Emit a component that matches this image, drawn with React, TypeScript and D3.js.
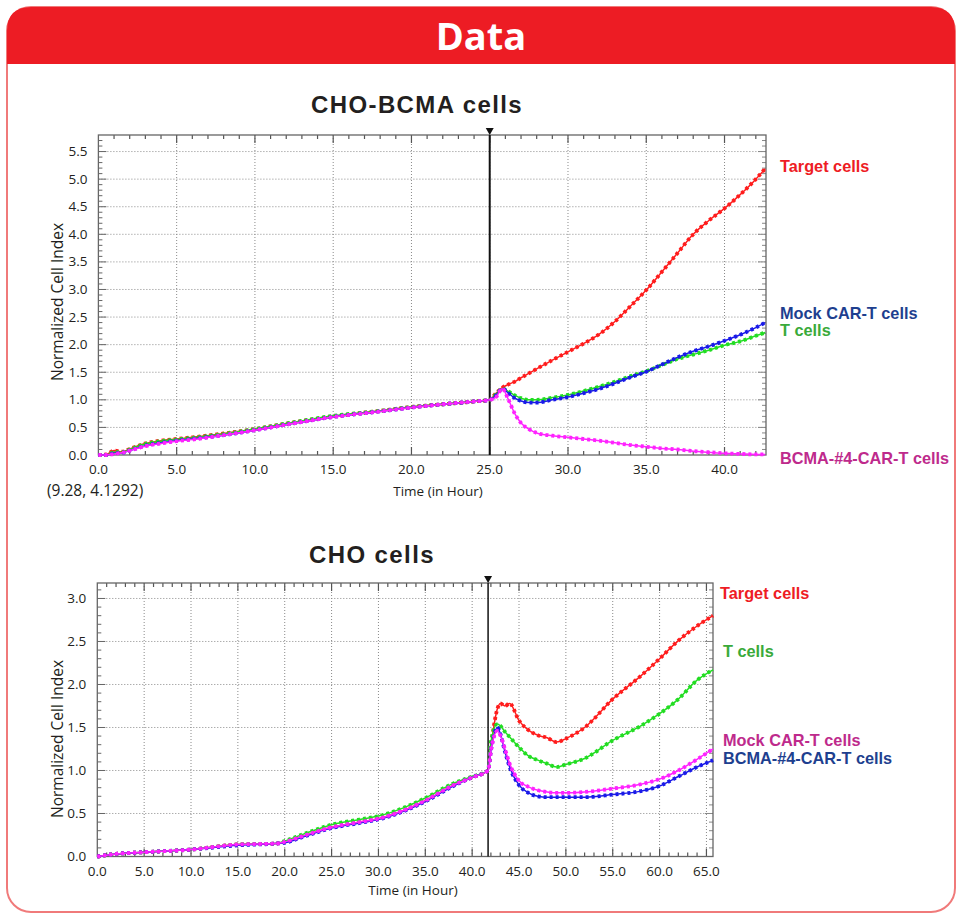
import React, { useEffect, useRef } from 'react';
import * as d3 from 'd3';

// CHO-BCMA panel (hours, normalized cell index)
const topHours = [0, 0.5, 1, 1.5, 2, 3, 4, 5, 6, 8, 10, 12, 15, 18, 20, 22, 24, 25,
  25.4, 25.8, 26.2, 26.6, 27, 27.5, 28, 29, 30, 31, 32, 33, 34, 35, 36, 37, 38, 39, 40, 41, 42, 42.6];
const topTarget = [0, 0.01, 0.08, 0.06, 0.11, 0.21, 0.26, 0.29, 0.32, 0.39, 0.47, 0.57, 0.7, 0.8, 0.87, 0.92, 0.97, 1.0,
  1.12, 1.22, 1.28, 1.33, 1.4, 1.48, 1.56, 1.72, 1.87, 2.02, 2.19, 2.42, 2.7, 2.99, 3.32, 3.66, 4.0, 4.25, 4.47, 4.72, 5.0, 5.19];
const topTCells = [0, 0, 0.05, 0.05, 0.1, 0.2, 0.25, 0.28, 0.31, 0.38, 0.47, 0.57, 0.71, 0.8, 0.87, 0.92, 0.97, 1.0,
  1.1, 1.2, 1.15, 1.08, 1.03, 1.0, 1.0, 1.04, 1.09, 1.16, 1.24, 1.33, 1.43, 1.52, 1.63, 1.74, 1.82, 1.9, 1.99, 2.06, 2.16, 2.22];
const topMock = [0, 0, 0.03, 0.04, 0.08, 0.17, 0.22, 0.26, 0.29, 0.36, 0.45, 0.55, 0.69, 0.79, 0.86, 0.92, 0.97, 1.0,
  1.08, 1.2, 1.12, 1.03, 0.98, 0.95, 0.95, 1.0, 1.05, 1.12, 1.2, 1.3, 1.41, 1.51, 1.64, 1.77, 1.88, 1.97, 2.07, 2.18, 2.31, 2.4];
const topBcma = [0, 0, 0.02, 0.04, 0.08, 0.16, 0.21, 0.25, 0.28, 0.36, 0.45, 0.55, 0.69, 0.79, 0.86, 0.92, 0.97, 1.0,
  1.05, 1.2, 1.0, 0.75, 0.58, 0.47, 0.4, 0.35, 0.32, 0.29, 0.26, 0.22, 0.18, 0.15, 0.12, 0.1, 0.07, 0.05, 0.03, 0.02, 0.01, 0.01];

// CHO panel
const botHours = [0, 2, 5, 10, 15, 19, 20, 22, 25, 28, 30, 33, 35, 38, 40, 41.7,
  42, 42.7, 43, 43.5, 44, 45, 46, 47, 48, 49, 50, 52, 55, 58, 60, 62, 64, 65.7];
const botTarget = [0, 0.03, 0.05, 0.08, 0.14, 0.15, 0.17, 0.24, 0.34, 0.4, 0.44, 0.55, 0.65, 0.83, 0.92, 1.0,
  1.27, 1.72, 1.78, 1.75, 1.78, 1.58, 1.47, 1.41, 1.38, 1.33, 1.37, 1.5, 1.83, 2.1, 2.3, 2.51, 2.68, 2.8];
const botTCells = [0, 0.03, 0.05, 0.08, 0.14, 0.15, 0.18, 0.26, 0.37, 0.43, 0.47, 0.58, 0.68, 0.85, 0.93, 1.0,
  1.33, 1.54, 1.52, 1.45, 1.39, 1.27, 1.17, 1.12, 1.08, 1.04, 1.07, 1.14, 1.35, 1.52, 1.66, 1.83, 2.05, 2.17];
const botMock = [0, 0.03, 0.05, 0.08, 0.14, 0.15, 0.17, 0.24, 0.34, 0.4, 0.44, 0.55, 0.65, 0.83, 0.92, 1.0,
  1.23, 1.46, 1.41, 1.25, 1.08, 0.88, 0.81, 0.77, 0.75, 0.74, 0.74, 0.75, 0.79, 0.84, 0.9, 1.0, 1.13, 1.25];
const botBcma = [0, 0.03, 0.05, 0.08, 0.13, 0.15, 0.16, 0.23, 0.33, 0.39, 0.43, 0.54, 0.64, 0.82, 0.92, 1.0,
  1.23, 1.5, 1.43, 1.22, 1.04, 0.83, 0.74, 0.7, 0.69, 0.69, 0.69, 0.69, 0.72, 0.76, 0.82, 0.93, 1.04, 1.12];

const RED = '#ff1c1c';
const GREEN = '#22dd22';
const BLUE = '#1a1ae8';
const PINK = '#ff22ff';

type Series = { values: number[]; color: string };
type Label = { text: string; color: string; x: number; y: number };

interface Panel {
  title: string;
  titleX: number;
  titleY: number;
  left: number; right: number; top: number; bottom: number;
  xMax: number; yMax: number;
  event: number;
  hours: number[];
  series: Series[];
  labels: Label[];
  xTitleX: number; xTitleY: number;
  yTitleY: number;
}

const panels: Panel[] = [
  {
    title: 'CHO-BCMA cells', titleX: 417, titleY: 113,
    left: 98.4, right: 766, top: 135, bottom: 455,
    xMax: 42.65, yMax: 5.8, event: 25,
    hours: topHours,
    series: [
      { values: topTarget, color: RED },
      { values: topTCells, color: GREEN },
      { values: topMock, color: BLUE },
      { values: topBcma, color: PINK },
    ],
    labels: [
      { text: 'Target cells', color: '#ee1c24', x: 780, y: 172 },
      { text: 'Mock CAR-T cells', color: '#1e3f8f', x: 780, y: 319 },
      { text: 'T cells', color: '#3aaa3a', x: 780, y: 336 },
      { text: 'BCMA-#4-CAR-T cells', color: '#be2a8c', x: 780, y: 464 },
    ],
    xTitleX: 438, xTitleY: 496, yTitleY: 302,
  },
  {
    title: 'CHO cells', titleX: 372, titleY: 563,
    left: 97.3, right: 713, top: 583, bottom: 856.5,
    xMax: 65.7, yMax: 3.18, event: 41.7,
    hours: botHours,
    series: [
      { values: botTarget, color: RED },
      { values: botTCells, color: GREEN },
      { values: botBcma, color: BLUE },
      { values: botMock, color: PINK },
    ],
    labels: [
      { text: 'Target cells', color: '#ee1c24', x: 720, y: 599 },
      { text: 'T cells', color: '#3aaa3a', x: 723, y: 657 },
      { text: 'Mock CAR-T cells', color: '#be2a8c', x: 723, y: 746 },
      { text: 'BCMA-#4-CAR-T cells', color: '#1e3f8f', x: 723, y: 764 },
    ],
    xTitleX: 413, xTitleY: 895, yTitleY: 739,
  },
];

const AXIS_FONT = '"Open Sans", "DejaVu Sans", sans-serif';
const BOLD_FONT = '"Liberation Sans", Arial, sans-serif';

function drawPanel(svg: d3.Selection<SVGSVGElement, unknown, null, undefined>, p: Panel) {
  const x = d3.scaleLinear().domain([0, p.xMax]).range([p.left, p.right]);
  const y = d3.scaleLinear().domain([0, p.yMax]).range([p.bottom, p.top]);
  const g = svg.append('g');

  g.append('text')
    .attr('x', p.titleX).attr('y', p.titleY)
    .attr('text-anchor', 'middle')
    .attr('font-family', BOLD_FONT).attr('font-weight', 'bold').attr('font-size', 24)
    .attr('letter-spacing', 1.4)
    .attr('fill', '#231f20')
    .text(p.title);

  // dotted grid
  const xMajor = d3.range(5, p.xMax, 5);
  const yMajor = d3.range(1, Math.floor(p.yMax * 2) + 1).map(i => i / 2);
  g.selectAll('.vgrid').data(xMajor).join('line')
    .attr('x1', d => x(d)).attr('x2', d => x(d))
    .attr('y1', p.top).attr('y2', p.bottom)
    .attr('stroke', '#8a8a8a').attr('stroke-width', 1).attr('stroke-dasharray', '1,2');
  g.selectAll('.hgrid').data(yMajor).join('line')
    .attr('x1', p.left).attr('x2', p.right)
    .attr('y1', d => y(d)).attr('y2', d => y(d))
    .attr('stroke', '#8a8a8a').attr('stroke-width', 1).attr('stroke-dasharray', '1,2');

  // ticks on all four sides
  const xMinor = d3.range(1, Math.floor(p.xMax) + 1).filter(d => d < p.xMax);
  const yMinor = d3.range(1, Math.floor(p.yMax * 10) + 1).map(i => i / 10).filter(d => d < p.yMax);
  const tickLen = (major: boolean) => (major ? 8 : 4);
  g.selectAll('.xtb').data(xMinor).join('line')
    .attr('x1', d => x(d)).attr('x2', d => x(d))
    .attr('y1', p.bottom).attr('y2', d => p.bottom - tickLen(d % 5 === 0))
    .attr('stroke', '#555').attr('stroke-width', 1.2);
  g.selectAll('.xtt').data(xMinor).join('line')
    .attr('x1', d => x(d)).attr('x2', d => x(d))
    .attr('y1', p.top).attr('y2', d => p.top + tickLen(d % 5 === 0))
    .attr('stroke', '#555').attr('stroke-width', 1.2);
  g.selectAll('.ytl').data(yMinor).join('line')
    .attr('y1', d => y(d)).attr('y2', d => y(d))
    .attr('x1', p.left).attr('x2', d => p.left + tickLen(Math.round(d * 10) % 5 === 0))
    .attr('stroke', '#666').attr('stroke-width', 1);
  g.selectAll('.ytr').data(yMinor).join('line')
    .attr('y1', d => y(d)).attr('y2', d => y(d))
    .attr('x1', p.right).attr('x2', d => p.right - tickLen(Math.round(d * 10) % 5 === 0))
    .attr('stroke', '#888').attr('stroke-width', 1);

  // frame
  g.append('rect')
    .attr('x', p.left).attr('y', p.top)
    .attr('width', p.right - p.left).attr('height', p.bottom - p.top)
    .attr('fill', 'none').attr('stroke', '#666').attr('stroke-width', 1.3);

  // tick labels
  g.selectAll('.xl').data(d3.range(0, p.xMax, 5)).join('text')
    .attr('x', d => x(d)).attr('y', p.bottom + 19)
    .attr('text-anchor', 'middle')
    .attr('font-family', AXIS_FONT).attr('font-size', 13.5).attr('fill', '#231f20')
    .text(d => d3.format('.1f')(d));
  g.selectAll('.yl').data([0, ...yMajor]).join('text')
    .attr('x', p.left - 11).attr('y', d => y(d) + 4.5)
    .attr('text-anchor', 'end')
    .attr('font-family', AXIS_FONT).attr('font-size', 13.5).attr('fill', '#231f20')
    .text(d => d3.format('.1f')(d));

  g.append('text')
    .attr('x', p.xTitleX).attr('y', p.xTitleY)
    .attr('text-anchor', 'middle')
    .attr('font-family', AXIS_FONT).attr('font-size', 13.5).attr('fill', '#231f20')
    .text('Time (in Hour)');
  g.append('text')
    .attr('transform', `translate(63,${p.yTitleY}) rotate(-90)`)
    .attr('text-anchor', 'middle')
    .attr('font-family', AXIS_FONT).attr('font-size', 15.5).attr('fill', '#231f20')
    .text('Normalized Cell Index');

  // treatment marker
  const ex = x(p.event);
  g.append('line')
    .attr('x1', ex).attr('x2', ex).attr('y1', p.top).attr('y2', p.bottom)
    .attr('stroke', '#111').attr('stroke-width', p.event === 25 ? 2 : 1.5);
  g.append('path')
    .attr('d', `M${ex - 4},${p.top - 7} L${ex + 4},${p.top - 7} L${ex},${p.top} Z`)
    .attr('fill', '#111');

  // series: thin line + dashed heavy overlay for the marker look
  const line = d3.line<number>()
    .x((_, i) => x(p.hours[i]))
    .y(d => y(d))
    .curve(d3.curveMonotoneX);
  p.series.forEach(s => {
    g.append('path').attr('d', line(s.values))
      .attr('fill', 'none').attr('stroke', s.color).attr('stroke-width', 1.5);
    g.append('path').attr('d', line(s.values))
      .attr('fill', 'none').attr('stroke', s.color).attr('stroke-width', 3.8)
      .attr('stroke-dasharray', '3,3');
  });

  g.selectAll('.lab').data(p.labels).join('text')
    .attr('x', d => d.x).attr('y', d => d.y)
    .attr('font-family', BOLD_FONT).attr('font-weight', 'bold').attr('font-size', 16.3)
    .attr('fill', d => d.color)
    .text(d => d.text);
}

export default function App() {
  const svgRef = useRef<SVGSVGElement>(null);

  useEffect(() => {
    if (!svgRef.current) return;
    const svg = d3.select(svgRef.current);
    svg.selectAll('*').remove();

    // card frame with red header
    svg.append('rect')
      .attr('x', 7).attr('y', 7).attr('width', 948).attr('height', 905).attr('rx', 24)
      .attr('fill', '#fff').attr('stroke', '#f07a7a').attr('stroke-width', 2);
    svg.append('path')
      .attr('d', 'M7,64 L7,31 Q7,7 31,7 L931,7 Q955,7 955,31 L955,64 Z')
      .attr('fill', '#ed1c24');
    svg.append('text')
      .attr('x', 481).attr('y', 50).attr('text-anchor', 'middle')
      .attr('font-family', '"Open Sans", sans-serif').attr('font-weight', 'bold')
      .attr('font-size', 38).attr('fill', '#fff')
      .text('Data');

    panels.forEach(p => drawPanel(svg, p));

    svg.append('text')
      .attr('x', 47).attr('y', 496)
      .attr('font-family', AXIS_FONT).attr('font-size', 15.5).attr('fill', '#231f20')
      .text('(9.28, 4.1292)');
  }, []);

  return (
    <svg ref={svgRef} width={962} height={915}
      style={{ position: 'absolute', left: 0, top: 0, background: '#fff' }} />
  );
}
